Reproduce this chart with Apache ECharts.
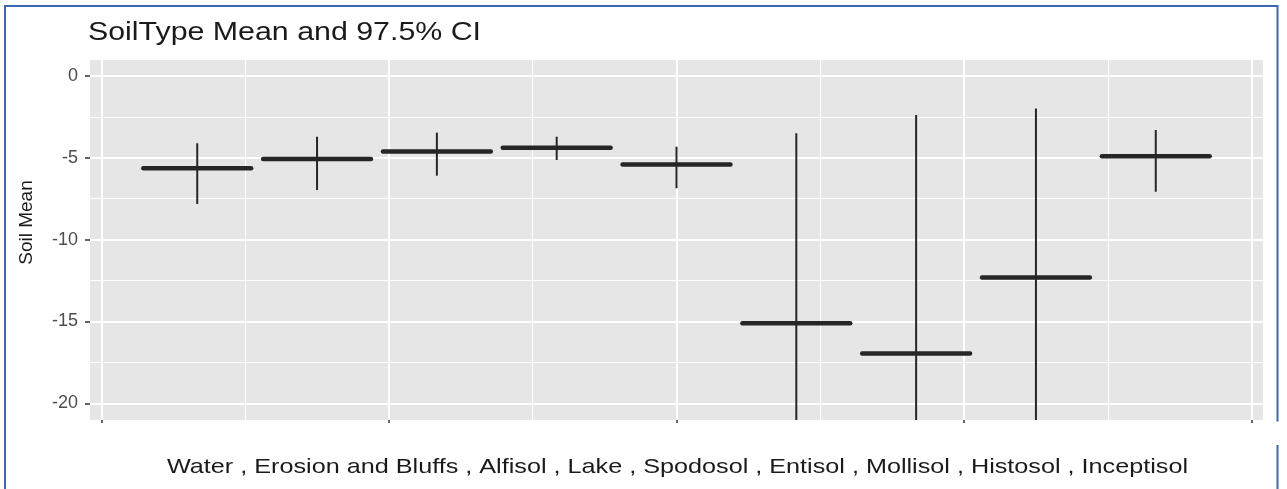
<!DOCTYPE html>
<html>
<head>
<meta charset="utf-8">
<script src="https://cdn.jsdelivr.net/npm/echarts@6/dist/echarts.min.js"></script>
<style>
  html, body { margin: 0; padding: 0; background: #fff; }
  #chart { width: 1287px; height: 489px; }
</style>
</head>
<body>
<div id="chart"></div>
<script>
// ---- data ----
const categories = ['Water', 'Erosion and Bluffs', 'Alfisol', 'Lake', 'Spodosol', 'Entisol', 'Mollisol', 'Histosol', 'Inceptisol'];
const meanValues = [-5.64, -5.07, -4.62, -4.38, -5.40, -15.11, -16.95, -12.32, -4.91];
const upperCI    = [-4.11, -3.71, -3.46, -3.71, -4.32, -3.50, -2.38, -1.98, -3.30];
const lowerCI    = [-7.82, -6.97, -6.09, -5.13, -6.86, -26.7, -31.5, -22.7, -7.07];
const yTickValues  = [-20, -15, -10, -5, 0];
const yMinorValues = [-17.5, -12.5, -7.5, -2.5];
const xBreaks      = [0.2, 2.6, 5.0, 7.4, 9.8];
const xMinorBreaks = [1.4, 3.8, 6.2, 8.6];
const titleText = 'SoilType Mean and 97.5% CI';
const yTitle = 'Soil Mean';

const X_MIN = 0.105, X_MAX = 9.895;
const Y_MIN = -21.02, Y_MAX = 0.978;
const HALF_W = 0.45;

const seriesData = categories.map((c, i) => [i + 1, meanValues[i], lowerCI[i], upperCI[i], c]);

const chart = echarts.init(document.getElementById('chart'), null, { renderer: 'canvas' });
const FONT = 'Liberation Sans, Arial, sans-serif';

const option = {
  animation: false,
  backgroundColor: '#ffffff',
  grid: {
    left: 90, right: 24, top: 60, bottom: 69,
    show: true, backgroundColor: '#e6e6e6', borderWidth: 0
  },
  xAxis: [
    {
      type: 'value', min: X_MIN, max: X_MAX, position: 'bottom',
      axisLine: { show: false, onZero: false },
      axisTick: { show: true, customValues: xBreaks, length: 3, lineStyle: { color: '#333', width: 1.5 } },
      axisLabel: { show: false, customValues: xBreaks },
      splitLine: { show: true, lineStyle: { color: '#ffffff', width: 2 } }
    },
    {
      type: 'value', min: X_MIN, max: X_MAX, position: 'bottom',
      axisLine: { show: false, onZero: false },
      axisTick: { show: false, customValues: xMinorBreaks },
      axisLabel: { show: false, customValues: xMinorBreaks },
      splitLine: { show: true, lineStyle: { color: '#ffffff', width: 1 } }
    }
  ],
  yAxis: [
    {
      type: 'value', min: Y_MIN, max: Y_MAX, position: 'left',
      axisLine: { show: false, onZero: false },
      axisTick: { show: true, customValues: yTickValues, length: 5, lineStyle: { color: '#333', width: 1.5 } },
      axisLabel: { show: true, customValues: yTickValues, margin: 12, color: '#4d4d4d', fontSize: 18, fontFamily: FONT },
      splitLine: { show: true, lineStyle: { color: '#ffffff', width: 2 } }
    },
    {
      type: 'value', min: Y_MIN, max: Y_MAX, position: 'left',
      axisLine: { show: false, onZero: false },
      axisTick: { show: false, customValues: yMinorValues },
      axisLabel: { show: false, customValues: yMinorValues },
      splitLine: { show: true, lineStyle: { color: '#ffffff', width: 1 } }
    }
  ],
  series: [
    {
      type: 'custom',
      xAxisIndex: 0, yAxisIndex: 0,
      clip: true,
      encode: { x: 0, y: [1, 2, 3] },
      data: seriesData,
      renderItem: function (params, api) {
        const x = api.value(0), m = api.value(1), lo = api.value(2), hi = api.value(3);
        const top = api.coord([x, hi]);
        const bot = api.coord([x, lo]);
        const l = api.coord([x - HALF_W, m]);
        const r = api.coord([x + HALF_W, m]);
        return {
          type: 'group',
          children: [
            { type: 'line', shape: { x1: top[0], y1: top[1], x2: bot[0], y2: bot[1] },
              style: { stroke: '#262626', lineWidth: 2 } },
            { type: 'line', shape: { x1: l[0], y1: l[1], x2: r[0], y2: r[1] },
              style: { stroke: '#262626', lineWidth: 4.5, lineCap: 'round' } }
          ]
        };
      }
    }
  ],
  graphic: [
    { type: 'text', x: 88, y: 32.5, scaleX: 1.19, z: 10,
      style: { text: titleText, fontSize: 25.5, fontFamily: FONT, fill: '#1a1a1a', align: 'left', verticalAlign: 'middle' } },
    { type: 'text', x: 677.5, y: 467.5, scaleX: 1.2, z: 10,
      style: { text: categories.join(' , '), fontSize: 21, fontFamily: FONT, fill: '#1a1a1a', align: 'center', verticalAlign: 'middle' } },
    { type: 'text', x: 26.5, y: 222.5, rotation: Math.PI / 2, z: 10,
      style: { text: yTitle, fontSize: 19, fontFamily: FONT, fill: '#1a1a1a', align: 'center', verticalAlign: 'middle' } },
    { type: 'polyline', z: 20, shape: { points: [[5, 489], [5, 6], [1277.5, 6], [1277.5, 421.5]] },
      style: { stroke: '#3f66b0', lineWidth: 2, fill: null } },
    { type: 'line', z: 20, shape: { x1: 1277.5, y1: 445, x2: 1277.5, y2: 489 },
      style: { stroke: '#3f66b0', lineWidth: 2 } }
  ]
};
chart.setOption(option);
</script>
</body>
</html>
